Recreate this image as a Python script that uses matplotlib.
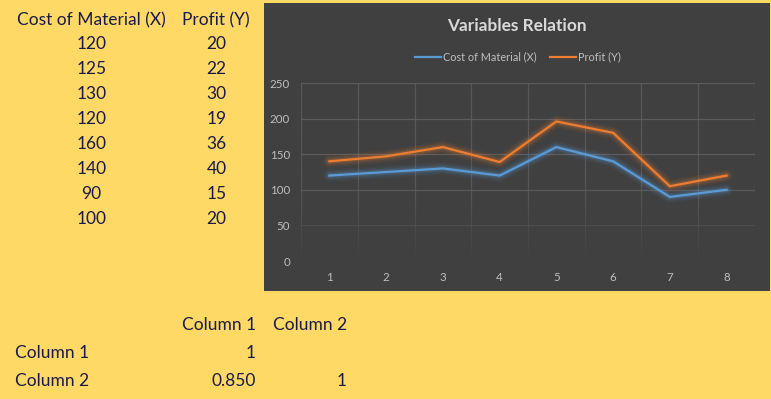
import matplotlib
matplotlib.use("Agg")
import matplotlib.pyplot as plt
import numpy as np
from matplotlib.patches import Rectangle
from matplotlib.collections import LineCollection

# ---- data ----
categories = [1, 2, 3, 4, 5, 6, 7, 8]
cost = [120, 125, 130, 120, 160, 140, 90, 100]
profit = [20, 22, 30, 19, 36, 40, 15, 20]
header_x = "Cost of Material (X)"
header_y = "Profit (Y)"
corr_labels = ["Column 1", "Column 2"]
corr_values = [["1", ""], ["0.850", "1"]]
y_ticks = [0, 50, 100, 150, 200, 250]

W, H = 771, 399
plt.rcParams['font.family'] = ['Lato', 'DejaVu Sans']
fig = plt.figure(figsize=(W / 100, H / 100), dpi=100)
fig.patch.set_facecolor('#FFD966')

def fx(px):
    return px / W

def fy(py):
    return 1 - py / H

# chart area background
fig.patches.append(Rectangle((fx(264), fy(291)), fx(770) - fx(264), fy(3) - fy(291),
                             transform=fig.transFigure, facecolor='#404040',
                             edgecolor='none', zorder=-5))

# ---- worksheet table ----
txt_color = '#1A1A4A'
fs = 12.5
fig.text(fx(17), fy(20), header_x, ha='left', va='center', fontsize=fs, color=txt_color)
fig.text(fx(182), fy(20), header_y, ha='left', va='center', fontsize=fs, color=txt_color)
row_y = [44, 69, 94, 119, 144, 169, 194, 219]
for i in range(len(cost)):
    fig.text(fx(91.5), fy(row_y[i]), str(cost[i]), ha='center', va='center', fontsize=fs, color=txt_color)
    fig.text(fx(216.5), fy(row_y[i]), str(profit[i]), ha='center', va='center', fontsize=fs, color=txt_color)

# correlation table
col_right = [256, 347]
fig.text(fx(col_right[0]), fy(325), corr_labels[0], ha='right', va='center', fontsize=fs, color=txt_color)
fig.text(fx(col_right[1]), fy(325), corr_labels[1], ha='right', va='center', fontsize=fs, color=txt_color)
for r, ry in enumerate([353, 381]):
    fig.text(fx(15), fy(ry), corr_labels[r], ha='left', va='center', fontsize=fs, color=txt_color)
    for c in range(2):
        if corr_values[r][c]:
            fig.text(fx(col_right[c]), fy(ry), corr_values[r][c], ha='right', va='center',
                     fontsize=fs, color=txt_color)

# ---- chart ----
ax = fig.add_axes([fx(301), fy(261), fx(755) - fx(301), fy(83) - fy(261)])
ax.set_zorder(2)
ax.set_facecolor('none')
ax.set_xlim(0.5, 8.5)
ax.set_ylim(0, 250)
for s in ax.spines.values():
    s.set_visible(False)

grid_color = np.array(matplotlib.colors.to_rgb('#5C5C5C'))

def fade(yv):
    return float(np.clip(yv / 110.0, 0, 1))

# horizontal gridlines
for yv in y_ticks[1:]:
    ax.axhline(yv, color=grid_color, alpha=fade(yv), lw=0.9, zorder=1)
# vertical gridlines with fade toward bottom
segs, cols = [], []
ys = np.linspace(0, 250, 126)
for xv in np.arange(0.5, 9.0, 1.0):
    for a, b in zip(ys[:-1], ys[1:]):
        segs.append([(xv, a), (xv, b)])
        cols.append((*grid_color, fade((a + b) / 2)))
ax.add_collection(LineCollection(segs, colors=cols, linewidths=0.9, zorder=1))

stacked = [c + p for c, p in zip(cost, profit)]
blue = '#5B9BD5'
orange = '#ED7D31'
for series, col in [(cost, blue), (stacked, orange)]:
    for lw, al in [(9, 0.05), (7, 0.07), (5, 0.1), (3.5, 0.15)]:
        ax.plot(categories, series, color=col, lw=lw, alpha=al, solid_joinstyle='round',
                solid_capstyle='round', zorder=2)
l1, = ax.plot(categories, cost, color=blue, lw=1.6, zorder=3, label=header_x)
l2, = ax.plot(categories, stacked, color=orange, lw=1.6, zorder=3, label=header_y)

ax.set_xticks(categories)
ax.set_yticks(y_ticks)
ax.tick_params(axis='both', length=0, labelsize=8.3, colors='#BFBFBF')
ax.tick_params(axis='x', pad=8)
ax.tick_params(axis='y', pad=8)

fig.text(fx(517), fy(26), "Variables Relation", ha='center', va='center', fontsize=12.4,
         fontweight='bold', color='#D9D9D9')
fig.legend(handles=[l1, l2], loc='center', bbox_to_anchor=(fx(518), fy(57)), ncol=2,
           frameon=False, fontsize=7.8, labelcolor='#BFBFBF', handlelength=2.4,
           handletextpad=0.2, columnspacing=1.2)

fig.savefig('out.png', dpi=100, facecolor=fig.get_facecolor())
